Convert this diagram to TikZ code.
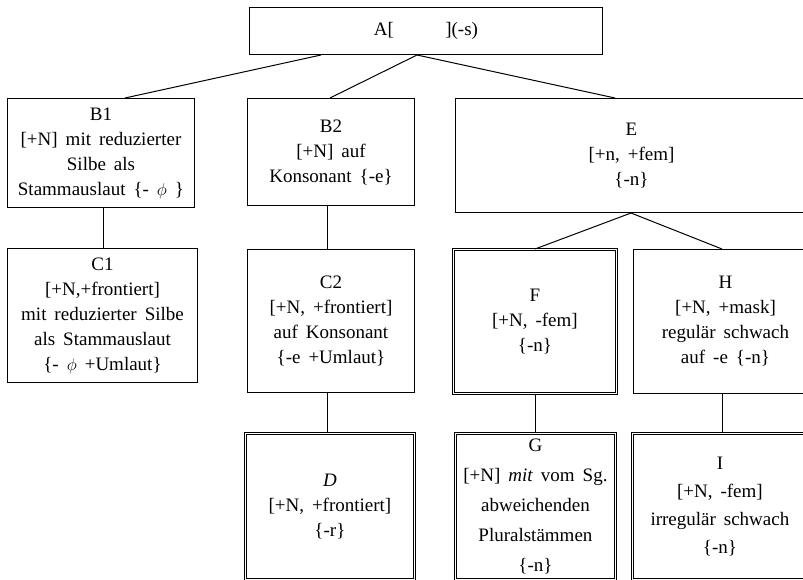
\documentclass[tikz,border=0pt]{standalone}
\usepackage{fontspec}
\setmainfont{Liberation Serif}
\newcommand\wsp{\spaceskip 0.42em\relax}
\begin{document}
\begin{tikzpicture}[x=1pt,y=-1pt,
  box/.style={draw, line width=1pt, inner sep=0pt, align=center, anchor=north west,
    font={\fontsize{19}{25}\selectfont}, execute at begin node={\wsp}},
  dbl/.style={double, double distance=1.6pt, line width=0.85pt},
  conn/.style={line width=1pt}]
\useasboundingbox (0,0) rectangle (803,579);
\clip (0,0) rectangle (803,579);
% top
\node[box, minimum width=353pt, minimum height=47pt] (A) at (249,7) {A[\hspace{2.7em}](-s)};
% second row
\node[box, minimum width=187pt, minimum height=109pt] (B1) at (7,98)
  {B1\\{}[+N] mit reduzierter\\ Silbe als\\ Stammauslaut \{- $\phi$ \}};
\node[box, minimum width=167pt, minimum height=107pt] (B2) at (247,98)
  {B2\\{}[+N] auf\\ Konsonant \{-e\}};
\node[box, minimum width=352pt, minimum height=114pt] (E) at (455,98)
  {E\\{}[+n, +fem]\\ \{-n\}};
% third row
\node[box, minimum width=190pt, minimum height=134pt] (C1) at (7,248)
  {C1\\{}[+N,+frontiert]\\ mit reduzierter Silbe\\ als Stammauslaut\\ \{- $\phi$ +Umlaut\}};
\node[box, minimum width=167pt, minimum height=143pt] (C2) at (247,249)
  {C2\\{}[+N, +frontiert]\\ auf Konsonant\\ \{-e +Umlaut\}};
\node[box, dbl, minimum width=163pt, minimum height=144pt] (F) at (453,249)
  {F\\{}[+N, -fem]\\ \{-n\}};
\node[box, minimum width=184pt, minimum height=144pt] (H) at (633,249)
  {H\\{}[+N, +mask]\\ regulär schwach\\ auf -e \{-n\}};
% bottom row
\node[box, dbl, minimum width=169pt, minimum height=146pt] (D) at (245,433)
  {\textit{D}\\{}[+N, +frontiert]\\ \{-r\}};
\node[box, dbl, minimum width=160pt, minimum height=146pt, font={\fontsize{19}{30}\selectfont}] (G) at (455,433)
  {G\\{}[+N] \textit{mit} vom Sg.\\ abweichenden\\ Pluralstämmen\\ \{-n\}};
\node[box, dbl, minimum width=175pt, minimum height=146pt, font={\fontsize{19}{28}\selectfont}] (I) at (632,433)
  {I\\{}[+N, -fem]\\ irregulär schwach\\ \{-n\}};
% connectors
\draw[conn] ([xshift=72pt]A.south west) -- ([xshift=118pt]B1.north west);
\draw[conn] ([xshift=168pt]A.south west) -- ([xshift=83pt]B2.north west);
\draw[conn] ([xshift=168pt]A.south west) -- ([xshift=160pt]E.north west);
\draw[conn] ([xshift=96pt]B1.south west) -- ([xshift=96pt]C1.north west);
\draw[conn] ([xshift=80pt]B2.south west) -- ([xshift=80pt]C2.north west);
\draw[conn] ([xshift=80pt]C2.south west) -- ([xshift=82pt]D.north west);
\draw[conn] ([xshift=176pt]E.south west) -- ([xshift=82pt]F.north west);
\draw[conn] ([xshift=176pt]E.south west) -- ([xshift=89pt]H.north west);
\draw[conn] ([xshift=82pt]F.south west) -- ([xshift=80pt]G.north west);
\draw[conn] ([xshift=89pt]H.south west) -- ([xshift=90pt]I.north west);
\end{tikzpicture}
\end{document}
